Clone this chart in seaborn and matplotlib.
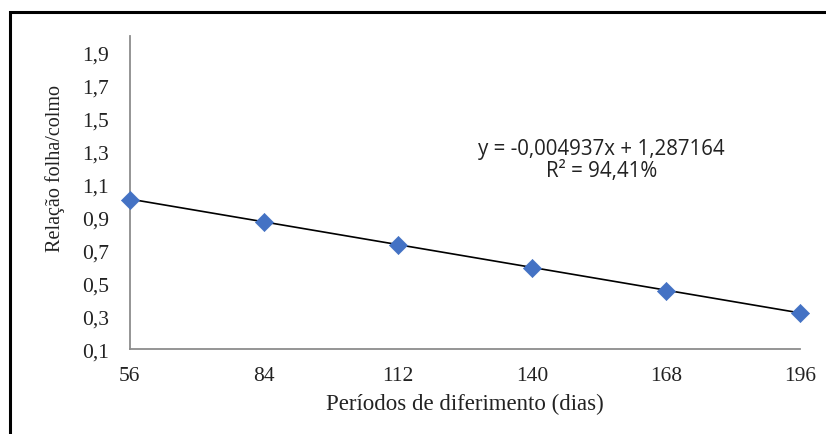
import matplotlib
matplotlib.use("Agg")
import matplotlib.pyplot as plt
import seaborn as sns
import pandas as pd
import numpy as np
from matplotlib.patches import Rectangle
from matplotlib.ticker import FuncFormatter

# Data
periodos = [56, 84, 112, 140, 168, 196]
relacao = [1.006, 0.873, 0.734, 0.595, 0.452, 0.318]
coef_a = -0.004937
coef_b = 1.287164
eq_label = "y = -0,004937x + 1,287164"
r2_label = "R² = 94,41%"
y_ticks = [0.1, 0.3, 0.5, 0.7, 0.9, 1.1, 1.3, 1.5, 1.7, 1.9]

df = pd.DataFrame({"Periodo": periodos, "Relacao": relacao})

sns.set_style("white")
plt.rcParams["font.family"] = ["Liberation Serif", "DejaVu Serif"]

fig = plt.figure(figsize=(8.26, 4.35), dpi=100)
ax = fig.add_axes([0.157, 0.195, 0.812, 0.72])

# Trend line from the fitted equation
xs = np.array([periodos[0], periodos[-1]])
ax.plot(xs, coef_a * xs + coef_b, color="black", linewidth=1.2, zorder=2)

sns.scatterplot(data=df, x="Periodo", y="Relacao", marker="D", s=85,
                color="#4472C4", edgecolor="#4472C4", linewidth=0.5,
                ax=ax, zorder=3, clip_on=False)

ax.set_xlim(56, 196)
ax.set_ylim(0.1, 2.0)
ax.set_xticks(periodos)
ax.set_yticks(y_ticks)
ax.yaxis.set_major_formatter(FuncFormatter(lambda v, p: f"{v:.1f}".replace(".", ",")))
ax.tick_params(axis="both", length=0, labelsize=15.5, colors="#222222")
ax.tick_params(axis="x", pad=12)
ax.tick_params(axis="y", pad=15)

for s in ["top", "right"]:
    ax.spines[s].set_visible(False)
for s in ["left", "bottom"]:
    ax.spines[s].set_color("#8c8c8c")
    ax.spines[s].set_linewidth(1.3)

ax.set_xlabel("Períodos de diferimento (dias)", fontsize=16.5, color="#222222")
ax.xaxis.set_label_coords(0.5, -0.138)
ax.set_ylabel("Relação folha/colmo", fontsize=14.5, color="#222222")
ax.yaxis.set_label_coords(-0.096, 0.58)

ax.text(0.703, 0.64, eq_label, transform=ax.transAxes, ha="center",
        va="center", fontsize=14.8, family=["Open Sans", "DejaVu Sans"], color="#222222")
ax.text(0.703, 0.57, r2_label, transform=ax.transAxes, ha="center",
        va="center", fontsize=14.8, family=["Open Sans", "DejaVu Sans"], color="#222222")

# Outer frame (cut off at right and bottom)
fig.patches.append(Rectangle((10 / 826, -0.1), 1.2, 1 - 13 / 435 + 0.1,
                             transform=fig.transFigure, fill=False,
                             edgecolor="black", linewidth=2.2))

fig.savefig("out.png", dpi=100)
